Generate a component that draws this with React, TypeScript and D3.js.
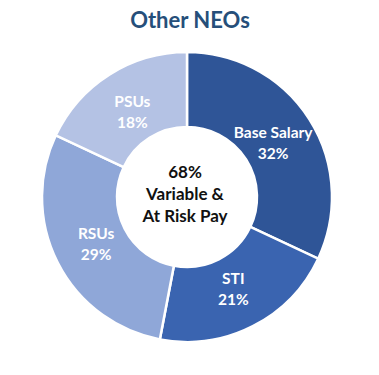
import React from "react";
import * as d3 from "d3";

const categories = ["Base Salary", "STI", "RSUs", "PSUs"];
const values = [32, 21, 29, 18];
const colors = ["#2F5597", "#3A64B0", "#8FA7D8", "#B4C2E4"];
const title = "Other NEOs";
const centerLines = ["68%", "Variable &", "At Risk Pay"];

export default function App() {
  const W = 379, H = 375;
  const cx = 187, cy = 197;
  const outerR = 145, innerR = 70;
  const pie = d3.pie<number>().sort(null).value((d) => d)(values);
  const arc = d3.arc<d3.PieArcDatum<number>>().innerRadius(innerR).outerRadius(outerR);
  const labelArc = d3.arc<d3.PieArcDatum<number>>().innerRadius(102).outerRadius(102);
  const font = "Lato, 'Open Sans', 'DejaVu Sans', sans-serif";
  return (
    <svg width={W} height={H} style={{ position: "absolute", left: 0, top: 0, background: "#fff" }}>
      <text x={190} y={28} textAnchor="middle" fontFamily={font} fontWeight={700} fontSize={22} fill="#264F7A">
        {title}
      </text>
      <g transform={`translate(${cx},${cy})`}>
        {pie.map((p, i) => (
          <path key={i} d={arc(p) || ""} fill={colors[i]} stroke="#fff" strokeWidth={2.5} />
        ))}
        {pie.map((p, i) => {
          const [x, y] = labelArc.centroid(p);
          return (
            <text key={"l" + i} x={x} y={y} textAnchor="middle" fontFamily={font} fontWeight={700} fontSize={15.5} fill="#fff">
              <tspan x={x} dy={-4}>{categories[i]}</tspan>
              <tspan x={x} dy={21}>{values[i]}%</tspan>
            </text>
          );
        })}
        {centerLines.map((t, i) => (
          <text key={"c" + i} x={-2} y={-19 + i * 22} textAnchor="middle" fontFamily={font} fontWeight={700} fontSize={17} fill="#111">
            {t}
          </text>
        ))}
      </g>
    </svg>
  );
}
